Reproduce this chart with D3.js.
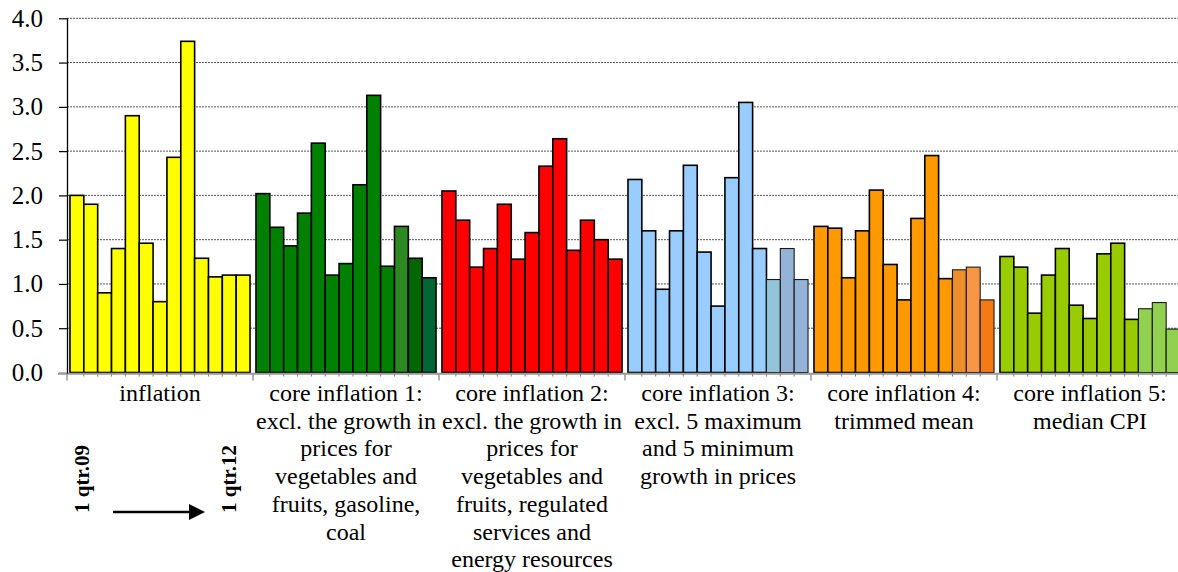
<!DOCTYPE html>
<html>
<head>
<meta charset="utf-8">
<script src="https://cdn.jsdelivr.net/npm/d3@7/dist/d3.min.js"></script>
<style>
  html, body { margin: 0; padding: 0; background: #ffffff; }
  svg { display: block; }
  svg text { font-family: "Liberation Serif", Tinos, "Times New Roman", Times, "DejaVu Serif", serif; fill: #000; }
</style>
</head>
<body>
<svg id="chart" width="1178" height="572"></svg>
<script>
// Quarterly growth, 1 qtr.09 .. 1 qtr.12, for each inflation measure
const quarters = ["1 qtr.09", "2 qtr.09", "3 qtr.09", "4 qtr.09",
                  "1 qtr.10", "2 qtr.10", "3 qtr.10", "4 qtr.10",
                  "1 qtr.11", "2 qtr.11", "3 qtr.11", "4 qtr.11",
                  "1 qtr.12"];

const inflation = [2.00, 1.90, 0.90, 1.40, 2.90, 1.46, 0.80, 2.43, 3.74, 1.29, 1.08, 1.10, 1.10];
const core1     = [2.02, 1.64, 1.43, 1.80, 2.59, 1.10, 1.23, 2.12, 3.13, 1.20, 1.65, 1.29, 1.07];
const core2     = [2.05, 1.72, 1.19, 1.40, 1.90, 1.28, 1.58, 2.33, 2.64, 1.38, 1.72, 1.50, 1.28];
const core3     = [2.18, 1.60, 0.94, 1.60, 2.34, 1.36, 0.75, 2.20, 3.05, 1.40, 1.05, 1.40, 1.05];
const core4     = [1.65, 1.63, 1.07, 1.60, 2.06, 1.22, 0.82, 1.74, 2.45, 1.06, 1.16, 1.19, 0.82];
const core5     = [1.31, 1.19, 0.67, 1.10, 1.40, 0.76, 0.61, 1.34, 1.46, 0.60, 0.72, 0.79, 0.49];

const categories = [
  "inflation",
  "core inflation 1:\nexcl. the growth in\nprices for\nvegetables and\nfruits, gasoline,\ncoal",
  "core inflation 2:\nexcl. the growth in\nprices for\nvegetables and\nfruits, regulated\nservices and\nenergy resources",
  "core inflation 3:\nexcl. 5 maximum\nand 5 minimum\ngrowth in prices",
  "core inflation 4:\ntrimmed mean",
  "core inflation 5:\nmedian CPI"
];

const yTicks = [0, 0.5, 1.0, 1.5, 2.0, 2.5, 3.0, 3.5, 4.0];

// Fill per measure; the last three quarters of some measures use their own shades
const baseColors = ["#FFFF00", "#008000", "#FF0000", "#99CCFF", "#FF9900", "#99CC00"];
const tailColors = [
  ["#FFFF00", "#FFFF00", "#FFFF00"],
  ["#2D8A22", "#006600", "#006633"],
  ["#FF0000", "#FF0000", "#FF0000"],
  ["#93C4D9", "#95B3D7", "#95B3D7"],
  ["#EC8F2A", "#F79646", "#F47A16"],
  ["#92D050", "#92D050", "#92D050"]
];
const thinTail = [false, false, false, true, true, true];

const series = [inflation, core1, core2, core3, core4, core5];

const serif = '"Liberation Serif", Tinos, "Times New Roman", Times, "DejaVu Serif", serif';
const svg = d3.select("#chart").attr("font-family", serif);
const plotLeft = 67, plotRight = 1183, plotTop = 18.3, plotBottom = 372.5;

const x0 = d3.scaleBand()
  .domain(d3.range(categories.length))
  .range([plotLeft, plotRight])
  .paddingInner(0.032)
  .paddingOuter(0.016);

const x1 = d3.scaleBand()
  .domain(quarters)
  .range([0, x0.bandwidth()])
  .padding(0);

const y = d3.scaleLinear().domain([0, 4]).range([plotBottom, plotTop]);

// Dotted horizontal gridlines
svg.append("g")
  .selectAll("line")
  .data(yTicks.filter(d => d > 0))
  .join("line")
  .attr("x1", plotLeft).attr("x2", plotRight)
  .attr("y1", d => y(d)).attr("y2", d => y(d))
  .attr("stroke", "#555")
  .attr("stroke-width", 1)
  .attr("stroke-dasharray", "2,1");

// Bars
const groups = svg.append("g")
  .selectAll("g")
  .data(series.map((vals, gi) => ({ gi, vals })))
  .join("g")
  .attr("transform", d => `translate(${x0(d.gi)},0)`);

groups.selectAll("rect")
  .data(d => d.vals.map((v, qi) => ({ gi: d.gi, qi, v })))
  .join("rect")
  .attr("x", d => x1(quarters[d.qi]))
  .attr("width", x1.bandwidth())
  .attr("y", d => y(d.v))
  .attr("height", d => y(0) - y(d.v))
  .attr("fill", d => d.qi >= 10 ? tailColors[d.gi][d.qi - 10] : baseColors[d.gi])
  .attr("stroke", d => (d.qi >= 10 && thinTail[d.gi]) ? "#1a1a1a" : "#000")
  .attr("stroke-width", d => (d.qi >= 10 && thinTail[d.gi]) ? 1.1 : 1.6);

// Category axis
const step = x0.step();
const boundaries = d3.range(categories.length + 1).map(i => plotLeft + i * step);
const xAxis = svg.append("g");
xAxis.append("line")
  .attr("x1", plotLeft - 9).attr("x2", plotRight)
  .attr("y1", plotBottom + 1.3).attr("y2", plotBottom + 1.3)
  .attr("stroke", "#999").attr("stroke-width", 2);
xAxis.selectAll("line.major")
  .data(boundaries)
  .join("line")
  .attr("class", "major")
  .attr("x1", d => d).attr("x2", d => d)
  .attr("y1", plotBottom + 1).attr("y2", plotBottom + 8)
  .attr("stroke", "#999").attr("stroke-width", 1.5);

// Minor marks between quarters
const minor = [];
d3.range(categories.length).forEach(gi => {
  quarters.forEach((q, qi) => { if (qi > 0) minor.push(x0(gi) + x1(q)); });
});
xAxis.selectAll("line.minor")
  .data(minor)
  .join("line")
  .attr("class", "minor")
  .attr("x1", d => d).attr("x2", d => d)
  .attr("y1", plotBottom + 2).attr("y2", plotBottom + 4)
  .attr("stroke", "#777").attr("stroke-width", 1);

// Wrapped category labels
const labels = svg.append("g")
  .selectAll("text")
  .data(categories.map((c, gi) => ({ gi, lines: c.split("\n") })))
  .join("text")
  .attr("text-anchor", "middle")
  .attr("font-family", serif)
  .style("font-size", "24px");
labels.selectAll("tspan")
  .data(d => d.lines.map((t, i) => ({ t, i, cx: x0(d.gi) + x0.bandwidth() / 2 })))
  .join("tspan")
  .attr("x", d => d.cx)
  .attr("y", d => 401 + d.i * 27.7)
  .text(d => d.t);

// Value axis
const yAxis = svg.append("g")
  .attr("transform", `translate(${plotLeft},0)`)
  .call(d3.axisLeft(y).tickValues(yTicks).tickFormat(d3.format(".1f")).tickSize(8).tickPadding(16));
yAxis.attr("font-family", serif);
yAxis.select(".domain").attr("stroke", "#000").attr("stroke-width", 1.3)
  .attr("d", `M0.5,${plotTop}V${plotBottom + 1}`);
yAxis.selectAll(".tick line").attr("stroke", d => d === 0 ? "#999" : "#000").attr("stroke-width", 1.2);
yAxis.selectAll(".tick text")
  .style("font-size", "25px")
  .attr("fill", "#000");

// Period annotation: first to last quarter
const annot = svg.append("g").attr("font-family", serif);
annot.append("text")
  .attr("transform", "translate(89,513) rotate(-90)")
  .style("font-size", "21px").style("font-weight", "bold")
  .text(quarters[0]);
annot.append("text")
  .attr("transform", "translate(236,513) rotate(-90)")
  .style("font-size", "21px").style("font-weight", "bold")
  .text(quarters[quarters.length - 1]);
annot.append("line")
  .attr("x1", 113).attr("x2", 191)
  .attr("y1", 512).attr("y2", 512)
  .attr("stroke", "#000").attr("stroke-width", 2.5);
annot.append("path")
  .attr("d", "M189,504 L205,512 L189,520 Z")
  .attr("fill", "#000");
</script>
</body>
</html>
